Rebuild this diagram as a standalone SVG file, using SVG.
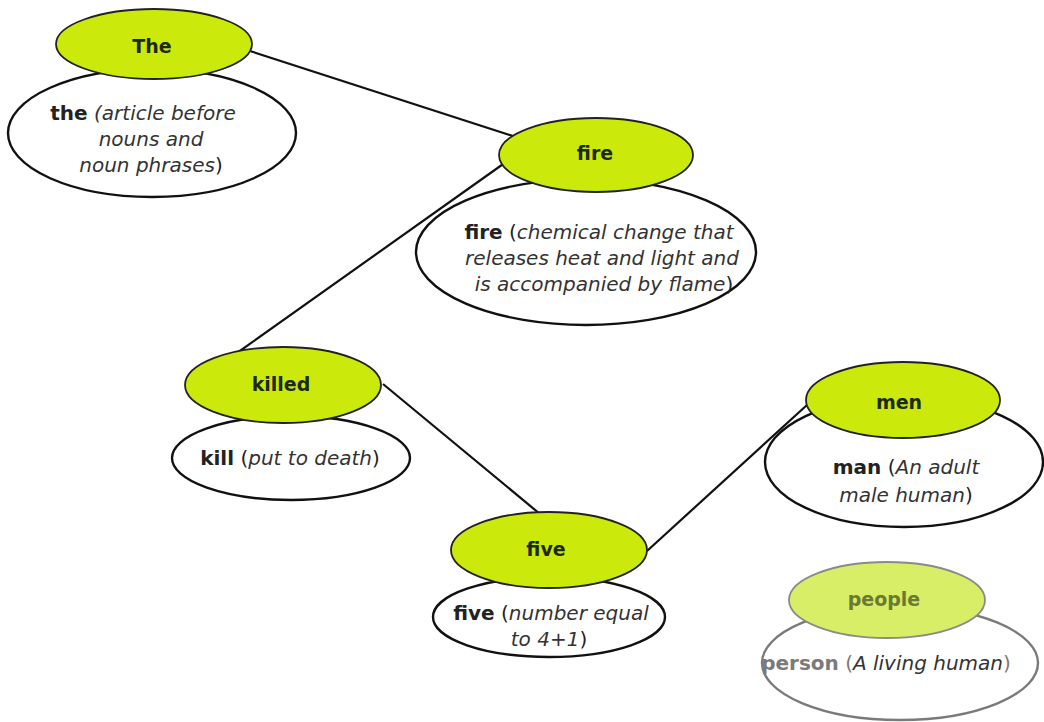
<svg xmlns="http://www.w3.org/2000/svg" width="1044" height="722" viewBox="0 0 1044 722">
<style>
.bg{fill:#ffffff}
.def{fill:#ffffff;stroke:#111;stroke-width:2.4}
.word{fill:#cbea0c;stroke:#222;stroke-width:1.8}
.conn{stroke:#111;stroke-width:2.2;fill:none}
text{font-family:"DejaVu Sans","Liberation Sans",sans-serif;text-anchor:middle;fill:#222}
.w{font-size:19px;font-weight:bold;fill:#1e2a10}
.d{font-size:20px}
.b{font-weight:bold}
.i{font-style:italic;fill:#333}
.dim .def{stroke:#7a7a7a}
.dim .word{fill:#d7ee66;stroke:#8a8a8a}
.dim text{fill:#7a7a7a}
.dim .w{fill:#6a7a30}
</style>
<rect class="bg" x="0" y="0" width="1044" height="722"/>
<g id="connectors">
<line class="conn" x1="250" y1="51" x2="516" y2="137"/>
<line class="conn" x1="506" y1="162" x2="237" y2="353"/>
<line class="conn" x1="383" y1="384" x2="540" y2="514"/>
<line class="conn" x1="647" y1="551" x2="807" y2="405"/>
</g>
<g id="node-the">
<ellipse class="def" cx="152" cy="133" rx="144" ry="64"/>
<ellipse class="word" cx="154" cy="44" rx="98" ry="35"/>
<text class="w" x="152" y="53">The</text>
<text class="d" x="143" y="120"><tspan class="b">the</tspan> <tspan class="i">(article before</tspan></text>
<text class="d i" x="151" y="146">nouns and</text>
<text class="d" x="151" y="172"><tspan class="i">noun phrases</tspan>)</text>
</g>
<g id="node-fire">
<ellipse class="def" cx="586" cy="252" rx="170" ry="73"/>
<ellipse class="word" cx="596" cy="155" rx="97" ry="37"/>
<text class="w" x="595" y="160">fire</text>
<text class="d" x="599" y="239"><tspan class="b">fire</tspan> (<tspan class="i">chemical change that</tspan></text>
<text class="d i" x="602" y="265">releases heat and light and</text>
<text class="d" x="604" y="291"><tspan class="i">is accompanied by flame</tspan>)</text>
</g>
<g id="node-killed">
<ellipse class="def" cx="291" cy="458" rx="119" ry="42"/>
<ellipse class="word" cx="283" cy="385" rx="98" ry="38"/>
<text class="w" x="281" y="391">killed</text>
<text class="d" x="290" y="465"><tspan class="b">kill</tspan> (<tspan class="i">put to death</tspan>)</text>
</g>
<g id="node-five">
<ellipse class="def" cx="549" cy="617" rx="116" ry="40"/>
<ellipse class="word" cx="549" cy="550" rx="98" ry="38"/>
<text class="w" x="546" y="556">five</text>
<text class="d" x="551" y="620"><tspan class="b">five</tspan> (<tspan class="i">number equal</tspan></text>
<text class="d" x="549" y="646"><tspan class="i">to 4+1</tspan>)</text>
</g>
<g id="node-men">
<ellipse class="def" cx="904" cy="462" rx="139" ry="65"/>
<ellipse class="word" cx="903" cy="400" rx="97" ry="38"/>
<text class="w" x="899" y="409">men</text>
<text class="d" x="906" y="474"><tspan class="b">man</tspan> (<tspan class="i">An adult</tspan></text>
<text class="d" x="906" y="502"><tspan class="i">male human</tspan>)</text>
</g>
<g id="node-people" class="dim">
<ellipse class="def" cx="900" cy="663" rx="138" ry="57"/>
<ellipse class="word" cx="887" cy="600" rx="98" ry="38"/>
<text class="w" x="884" y="606">people</text>
<text class="d" x="886" y="670"><tspan class="b">person</tspan> (<tspan class="i">A living human</tspan>)</text>
</g>
</svg>
